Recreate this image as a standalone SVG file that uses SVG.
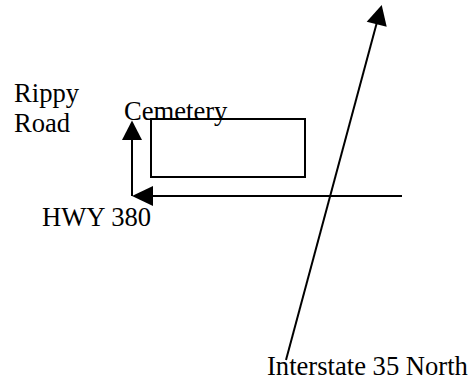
<svg xmlns="http://www.w3.org/2000/svg" width="472" height="381" viewBox="0 0 472 381">
<style>
.t{font-family:"Liberation Serif","Times New Roman",serif;font-size:26.6px;fill:#000}
.l{fill:none;stroke:#000;stroke-width:2}
.a{fill:#000}
</style>
<rect width="472" height="381" fill="#fff"/>
<g id="connectors">
<line class="l" x1="402" y1="196" x2="150" y2="196"/>
<polygon class="a" points="132,196 153,186 153,206"/>
<line class="l" x1="132" y1="196" x2="132" y2="138"/>
<polygon class="a" points="132,120.5 122,140 142,140"/>
<line class="l" x1="286" y1="360" x2="377" y2="22"/>
<polygon class="a" points="381.7,5 366.7,21.7 386.7,26.7"/>
</g>
<g id="cemetery">
<rect class="l" x="151" y="119" width="154" height="58"/>
<text class="t" x="124" y="120">Cemetery</text>
</g>
<g id="rippy-road">
<text class="t" x="14" y="102">Rippy</text>
<text class="t" x="14" y="132">Road</text>
</g>
<g id="hwy-380"><text class="t" x="42" y="226">HWY 380</text></g>
<g id="interstate"><text class="t" x="267" y="375">Interstate 35 North</text></g>
</svg>
